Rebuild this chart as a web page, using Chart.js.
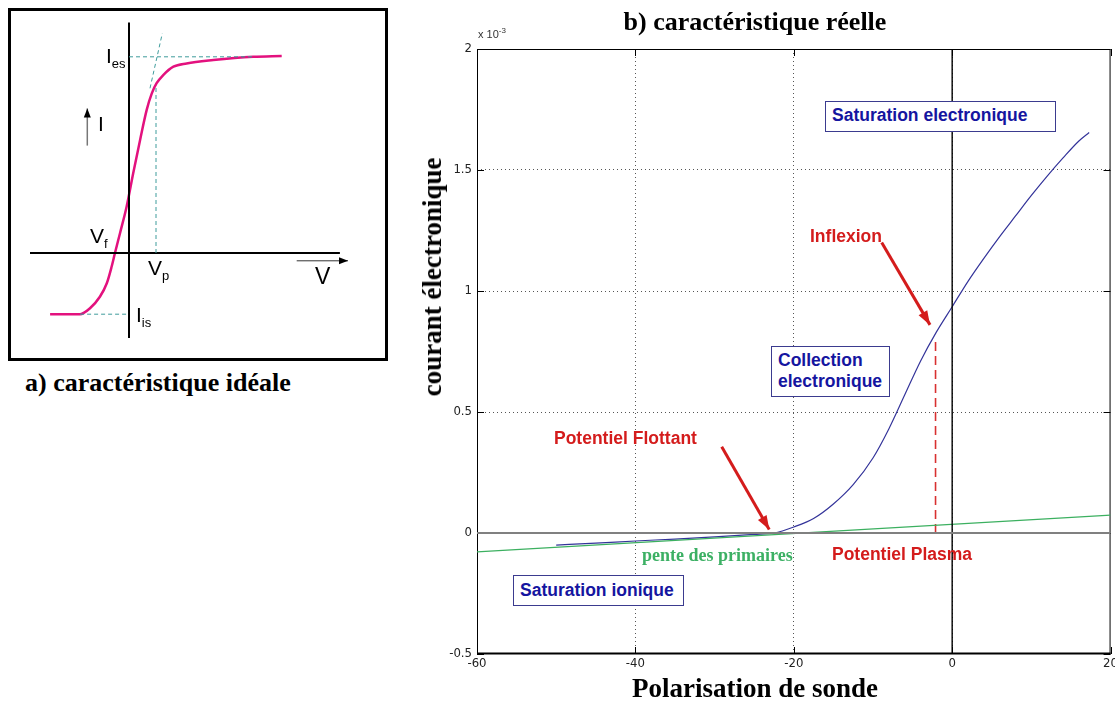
<!DOCTYPE html>
<html lang="fr">
<head>
  <meta charset="UTF-8">
  <title>Caractéristique de sonde de Langmuir</title>
  <script src="https://cdn.jsdelivr.net/npm/chart.js"></script>
  <style>
    body {
      margin: 0;
      background: #fff;
      width: 1115px;
      height: 702px;
      overflow: hidden;
      position: relative;
      font-family: 'Liberation Sans', Arial, sans-serif;
    }
    canvas { position: absolute; }
    .lbl { position: absolute; white-space: nowrap; }
    .serif { font-family: 'Liberation Serif', 'Times New Roman', serif; font-weight: bold; color: #000; line-height: 30px; }
    .note { font-weight: bold; font-size: 17.5px; line-height: 20px; }
    .navy { color: #1515a0; }
    .red { color: #d41c1c; }
    .box { position: absolute; border: 1.5px solid #3b3b8f; box-sizing: border-box; background: #fff; }
    .ideal { font-size: 21px; color: #000; }
    .ideal sub { font-size: 13px; vertical-align: -5px; }
    #frameA { position: absolute; left: 8px; top: 8px; width: 380px; height: 353px; border: 3px solid #000; box-sizing: border-box; }
  </style>
</head>
<body>

  <!-- a) ideal characteristic -->
  <div id="frameA"></div>
  <canvas id="idealChart" width="375" height="345" style="left:9px; top:13px;"></canvas>
  <div class="lbl ideal" style="left:106px; top:44px;">I<sub>es</sub></div>
  <div class="lbl ideal" style="left:98px; top:112px;">I</div>
  <div class="lbl ideal" style="left:90px; top:224px;">V<sub>f</sub></div>
  <div class="lbl ideal" style="left:148px; top:256px;">V<sub>p</sub></div>
  <div class="lbl ideal" style="left:136px; top:303px;">I<sub>is</sub></div>
  <div class="lbl ideal" style="left:315px; top:263px; font-size:23px;">V</div>
  <div class="lbl serif" style="left:25px; top:368px; font-size:26px;">a) caractéristique idéale</div>

  <!-- b) real characteristic -->
  <canvas id="realChart" width="700" height="702" style="left:420px; top:0px;"></canvas>
  <div class="lbl serif" style="left:755px; top:7px; font-size:26px; transform:translateX(-50%);">b) caractéristique réelle</div>
  <div class="lbl" style="left:478px; top:26px; font-size:11px; color:#333;">x 10<sup style="font-size:8px;">-3</sup></div>
  <div class="lbl serif" style="left:432px; top:277px; font-size:27px; transform:translate(-50%,-50%) rotate(-90deg);">courant électronique</div>
  <div class="lbl serif" style="left:755px; top:673px; font-size:27px; transform:translateX(-50%);">Polarisation de sonde</div>

  <div class="box" style="left:825px; top:101px; width:231px; height:31px;"></div>
  <div class="lbl note navy" style="left:832px; top:105px;">Saturation electronique</div>
  <div class="lbl note red" style="left:810px; top:226px;">Inflexion</div>
  <div class="box" style="left:771px; top:346px; width:119px; height:51px;"></div>
  <div class="lbl note navy" style="left:778px; top:350px; line-height:21px;">Collection<br>electronique</div>
  <div class="lbl note red" style="left:554px; top:428px;">Potentiel Flottant</div>
  <div class="lbl serif" style="left:642px; top:540px; font-size:18px; color:#3cb064;">pente des primaires</div>
  <div class="lbl note red" style="left:832px; top:544px;">Potentiel Plasma</div>
  <div class="box" style="left:513px; top:575px; width:171px; height:31px;"></div>
  <div class="lbl note navy" style="left:520px; top:580px;">Saturation ionique</div>

  <script>
    // ---- a) ideal curve (arbitrary units) ----
    const idealV = [-2.63, -1.63, -1.3, -0.97, -0.74, -0.58, -0.47, -0.3, -0.08, 0.14, 0.37, 0.59, 0.76, 0.92, 1.14, 1.48, 1.92, 2.81, 4.14, 5.09];
    const idealI = [-2.04, -2.04, -1.84, -1.46, -1.01, -0.46, -0.01, 0.66, 1.54, 2.66, 3.77, 4.77, 5.32, 5.66, 5.93, 6.21, 6.32, 6.43, 6.54, 6.57];
    const axisV = [-3.3, 7.03];
    const axisI = [-2.83, 7.68];
    const Ies = 6.54, Iis = -2.04, Vp = 0.9;
    const tangentV = [0.7, 1.11];
    const tangentI = [5.49, 7.32];
    const arrowV = [5.59, 7.3];   // "V" arrow, drawn at I = -0.26
    const arrowI = [3.58, 4.82];  // "I" arrow, drawn at V = -1.39

    // ---- b) real curve (V, mA) ----
    const probeV = [-50, -45, -40, -35, -30, -25, -22.5, -20, -17.5, -15, -12.5, -10, -8, -6, -4, -2, 0, 2, 4, 6, 8, 10, 12, 14, 16, 17.3];
    const probeI = [-0.05, -0.042, -0.033, -0.025, -0.016, -0.006, 0.0, 0.025, 0.06, 0.12, 0.2, 0.31, 0.43, 0.57, 0.71, 0.83, 0.935, 1.04, 1.135, 1.225, 1.31, 1.395, 1.475, 1.55, 1.62, 1.655];
    const slopeV = [-60, 20];
    const slopeI = [-0.078, 0.074];
    const plasmaV = -2.1;
    const plasmaI = [0, 0.81];
    const inflexArrowV = [-8.9, -2.8];
    const inflexArrowI = [1.2, 0.86];
    const floatArrowV = [-29.1, -23.1];
    const floatArrowI = [0.356, 0.014];
    const xTicks = [-60, -40, -20, 0, 20];
    const yTicks = [-0.5, 0, 0.5, 1, 1.5, 2];

    const pts = (xs, ys) => xs.map((x, i) => ({ x, y: ys[i] }));

    function line(data, color, width, extra) {
      return Object.assign({
        data, borderColor: color, backgroundColor: color, borderWidth: width,
        showLine: true, pointRadius: 0, fill: false, tension: 0
      }, extra || {});
    }

    // draws a filled head at the last point of datasets that have `arrow`
    const arrowHeads = {
      id: 'arrowHeads',
      afterDatasetsDraw(chart) {
        const ctx = chart.ctx;
        chart.data.datasets.forEach((ds, i) => {
          if (!ds.arrow) return;
          const p = chart.getDatasetMeta(i).data;
          const a = p[p.length - 2], b = p[p.length - 1];
          const ang = Math.atan2(b.y - a.y, b.x - a.x);
          const L = ds.arrow.len, W = ds.arrow.width / 2;
          const bx = b.x - L * Math.cos(ang), by = b.y - L * Math.sin(ang);
          ctx.save();
          ctx.fillStyle = ds.arrow.color || ds.borderColor;
          ctx.beginPath();
          ctx.moveTo(b.x, b.y);
          ctx.lineTo(bx + W * Math.sin(ang), by - W * Math.cos(ang));
          ctx.lineTo(bx - W * Math.sin(ang), by + W * Math.cos(ang));
          ctx.closePath();
          ctx.fill();
          ctx.restore();
        });
      }
    };

    const teal = '#3f9c9c';
    new Chart(document.getElementById('idealChart'), {
      type: 'scatter',
      data: {
        datasets: [
          line(pts([0, 4.2], [Ies, Ies]), teal, 1, { borderDash: [4, 3] }),
          line(pts([-1.63, 0], [Iis, Iis]), teal, 1, { borderDash: [4, 3] }),
          line(pts([Vp, Vp], [0, 5.6]), teal, 1, { borderDash: [4, 3] }),
          line(pts(tangentV, tangentI), teal, 1, { borderDash: [4, 3] }),
          line(pts(axisV, [0, 0]), '#000', 2),
          line(pts([0, 0], axisI), '#000', 2),
          line(pts(arrowV, [-0.26, -0.26]), '#333', 1, { arrow: { len: 9, width: 7, color: '#000' } }),
          line(pts([-1.39, -1.39], arrowI), '#777', 1.5, { arrow: { len: 9, width: 7, color: '#000' } }),
          line(pts(idealV, idealI), '#e3117e', 2.5, { cubicInterpolationMode: 'monotone' })
        ]
      },
      options: {
        responsive: false,
        animation: false,
        events: [],
        layout: { padding: 0 },
        plugins: { legend: { display: false }, tooltip: { enabled: false } },
        scales: {
          x: { type: 'linear', display: false, min: -4, max: 8.5 },
          y: { type: 'linear', display: false, min: -3.5, max: 8 }
        }
      },
      plugins: [arrowHeads]
    });

    // box, inward ticks
    const frame = {
      id: 'frame',
      beforeDatasetsDraw(chart) {
        const { ctx, chartArea: a, scales } = chart;
        ctx.save();
        ctx.strokeStyle = '#000';
        ctx.lineWidth = 1;
        ctx.strokeRect(a.left + 0.5, a.top + 0.5, a.right - a.left - 1, a.bottom - a.top - 1);
        ctx.beginPath();
        xTicks.forEach(v => {
          const x = Math.round(scales.x.getPixelForValue(v)) + 0.5;
          ctx.moveTo(x, a.bottom); ctx.lineTo(x, a.bottom - 7);
          ctx.moveTo(x, a.top); ctx.lineTo(x, a.top + 7);
        });
        yTicks.forEach(v => {
          const y = Math.round(scales.y.getPixelForValue(v)) + 0.5;
          ctx.moveTo(a.left, y); ctx.lineTo(a.left + 7, y);
          ctx.moveTo(a.right, y); ctx.lineTo(a.right - 7, y);
        });
        ctx.stroke();
        ctx.beginPath();
        ctx.lineWidth = 2;
        ctx.moveTo(a.left, a.bottom - 0.5); ctx.lineTo(a.right, a.bottom - 0.5);
        ctx.stroke();
        ctx.restore();
      }
    };

    const edge = (ctx, lo, hi) => (ctx.tick.value === lo || ctx.tick.value === hi) ? 'rgba(0,0,0,0)' : '#555';
    const tickFont = { family: "'Liberation Sans Narrow', 'DejaVu Sans Condensed', Arial, sans-serif", size: 13 };

    new Chart(document.getElementById('realChart'), {
      type: 'scatter',
      data: {
        datasets: [
          line(pts(slopeV, [0, 0]), '#808080', 2),
          line(pts([0, 0], [-0.5, 2]), '#000', 1.4),
          line(pts(slopeV, slopeI), '#3cb060', 1.2),
          line(pts([plasmaV, plasmaV], plasmaI), '#d83030', 1.6, { borderDash: [9, 5] }),
          line(pts(probeV, probeI), '#34349a', 1.2, { cubicInterpolationMode: 'monotone' }),
          line(pts(inflexArrowV, inflexArrowI), '#d41c1c', 3, { arrow: { len: 14, width: 10 } }),
          line(pts(floatArrowV, floatArrowI), '#d41c1c', 3, { arrow: { len: 14, width: 10 } })
        ]
      },
      options: {
        responsive: false,
        animation: false,
        events: [],
        layout: { padding: { left: 0, top: 49, right: 7, bottom: 0 } },
        plugins: { legend: { display: false }, tooltip: { enabled: false } },
        scales: {
          x: {
            type: 'linear', min: -60, max: 20,
            afterFit: s => { s.height = 48; },
            afterBuildTicks: s => { s.ticks = xTicks.map(v => ({ value: v })); },
            ticks: { color: '#222', font: tickFont, padding: 2, maxRotation: 0, callback: v => String(v) },
            grid: { drawTicks: false, color: c => edge(c, -60, 20), lineWidth: 1 },
            border: { display: false, dash: [1, 3] }
          },
          y: {
            type: 'linear', min: -0.5, max: 2,
            afterFit: s => { s.width = 57; },
            afterBuildTicks: s => { s.ticks = yTicks.map(v => ({ value: v })); },
            ticks: { color: '#222', font: tickFont, padding: 5, callback: v => String(v) },
            grid: { drawTicks: false, color: c => edge(c, -0.5, 2), lineWidth: 1 },
            border: { display: false, dash: [1, 3] }
          }
        }
      },
      plugins: [frame, arrowHeads]
    });
  </script>
</body>
</html>
